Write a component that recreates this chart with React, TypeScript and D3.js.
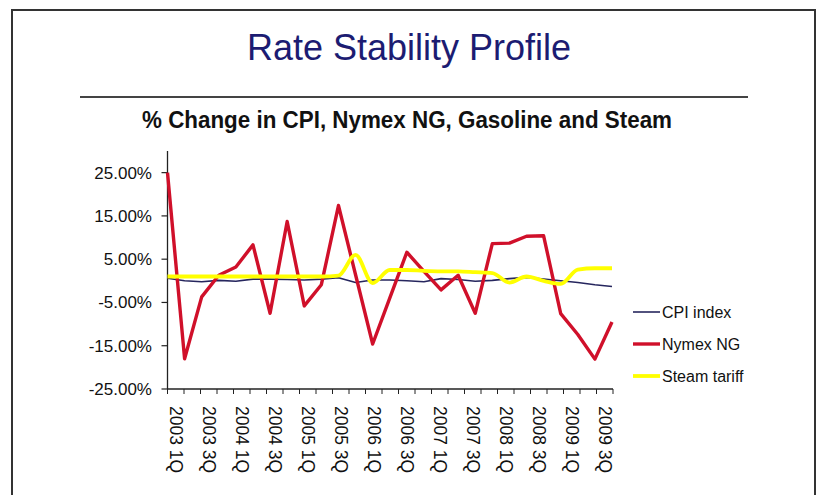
import React from 'react';
import * as d3 from 'd3';

const quarters = [
  '2003 1Q', '2003 2Q', '2003 3Q', '2003 4Q',
  '2004 1Q', '2004 2Q', '2004 3Q', '2004 4Q',
  '2005 1Q', '2005 2Q', '2005 3Q', '2005 4Q',
  '2006 1Q', '2006 2Q', '2006 3Q', '2006 4Q',
  '2007 1Q', '2007 2Q', '2007 3Q', '2007 4Q',
  '2008 1Q', '2008 2Q', '2008 3Q', '2008 4Q',
  '2009 1Q', '2009 2Q', '2009 3Q',
];

const cpiIndex = [0.6, 0.0, -0.2, 0.1, -0.1, 0.4, 0.4, 0.3, 0.2, 0.4, 0.7, -0.4, 0.2, 0.2, 0.0, -0.2, 0.5, 0.3, -0.1, 0.1, 0.5, 0.8, 0.4, 0.0, -0.4, -0.9, -1.3];
const nymexNG = [25.0, -18.0, -3.7, 1.3, 3.2, 8.3, -7.5, 13.7, -5.8, -0.9, 17.4, 1.4, -14.6, -4.0, 6.6, 2.2, -2.1, 1.3, -7.5, 8.6, 8.7, 10.3, 10.4, -7.6, -12.4, -18.1, -9.5];
const steamTariff = [1.0, 1.0, 1.0, 1.0, 1.0, 1.0, 1.0, 1.0, 1.0, 1.0, 1.2, 6.0, -0.5, 2.5, 2.5, 2.3, 2.2, 2.2, 2.0, 1.8, -0.4, 1.0, 0.0, -0.7, 2.6, 2.9, 2.9];

const yTicks = [25, 15, 5, -5, -15, -25];

const series = [
  { name: 'CPI index', values: cpiIndex, color: '#26265e', width: 1.6, smooth: false },
  { name: 'Nymex NG', values: nymexNG, color: '#d0102a', width: 3.4, smooth: false },
  { name: 'Steam tariff', values: steamTariff, color: '#ffff00', width: 3.8, smooth: true },
];

const FONT = '"Liberation Sans", Arial, sans-serif';

const App: React.FC = () => {
  const width = 822;
  const height = 495;
  const plot = { left: 167.5, right: 613, top: 151, bottom: 389 };

  const x = d3.scalePoint<string>().domain(quarters).range([plot.left, 612]);
  const band = d3.scaleBand<string>().domain(quarters).range([plot.left, plot.right]);
  const y = d3.scaleLinear().domain([-25, 30]).range([plot.bottom, plot.top]);

  // tick marks sit on the category edges, labels in between
  const tickEdges = quarters.map(q => band(q) || 0).concat([plot.right]);

  const makeLine = (smooth: boolean) =>
    d3.line<number>()
      .x((_, i) => x(quarters[i]) || 0)
      .y(d => y(d))
      .curve(smooth ? d3.curveMonotoneX : d3.curveLinear);

  return (
    <svg width={width} height={height} style={{ position: 'absolute', left: 0, top: 0, background: '#fff' }} fontFamily={FONT}>
      {/* frame */}
      <rect x={12} y={10} width={803} height={500} fill="none" stroke="#333" strokeWidth={2} />

      <text x={409} y={60} textAnchor="middle" fontSize={36} fill="#1c1c72">Rate Stability Profile</text>
      <line x1={80} x2={748} y1={97} y2={97} stroke="#444" strokeWidth={2} />
      <text x={407} y={128} textAnchor="middle" fontSize={23} fontWeight="bold" fill="#111"
        textLength={530} lengthAdjust="spacingAndGlyphs">% Change in CPI, Nymex NG, Gasoline and Steam</text>

      {/* y axis */}
      <line x1={plot.left} x2={plot.left} y1={plot.top} y2={plot.bottom} stroke="#222" strokeWidth={1.3} />
      {yTicks.map(t => (
        <g key={t}>
          <line x1={plot.left - 6} x2={plot.left} y1={y(t)} y2={y(t)} stroke="#222" strokeWidth={1.2} />
          <text x={152} y={y(t)} dy="0.35em" textAnchor="end" fontSize={17} fill="#111">
            {`${t.toFixed(2)}%`}
          </text>
        </g>
      ))}

      {/* x axis */}
      <line x1={plot.left} x2={plot.right} y1={plot.bottom} y2={plot.bottom} stroke="#222" strokeWidth={1.3} />
      {tickEdges.map((tx, i) => (
        <line key={i} x1={tx} x2={tx} y1={plot.bottom} y2={plot.bottom + 5} stroke="#222" strokeWidth={1} />
      ))}
      {quarters.filter((_, i) => i % 2 === 0).map(q => {
        const cx = (band(q) || 0) + band.bandwidth() / 2;
        return (
          <text key={q} transform={`translate(${cx},406) rotate(90)`} dy="0.35em" fontSize={17.5} fill="#111">
            {q}
          </text>
        );
      })}

      {/* series */}
      {series.map(s => (
        <path key={s.name} d={makeLine(s.smooth)(s.values) || undefined} fill="none"
          stroke={s.color} strokeWidth={s.width} strokeLinejoin="round" />
      ))}

      {/* legend */}
      {series.map((s, i) => (
        <g key={s.name} transform={`translate(633,${312 + i * 32})`}>
          <line x1={0} x2={27} y1={0} y2={0} stroke={s.color} strokeWidth={s.width} />
          <text x={29} y={0} dy="0.35em" fontSize={16} fill="#111">{s.name}</text>
        </g>
      ))}
    </svg>
  );
};

export default App;
